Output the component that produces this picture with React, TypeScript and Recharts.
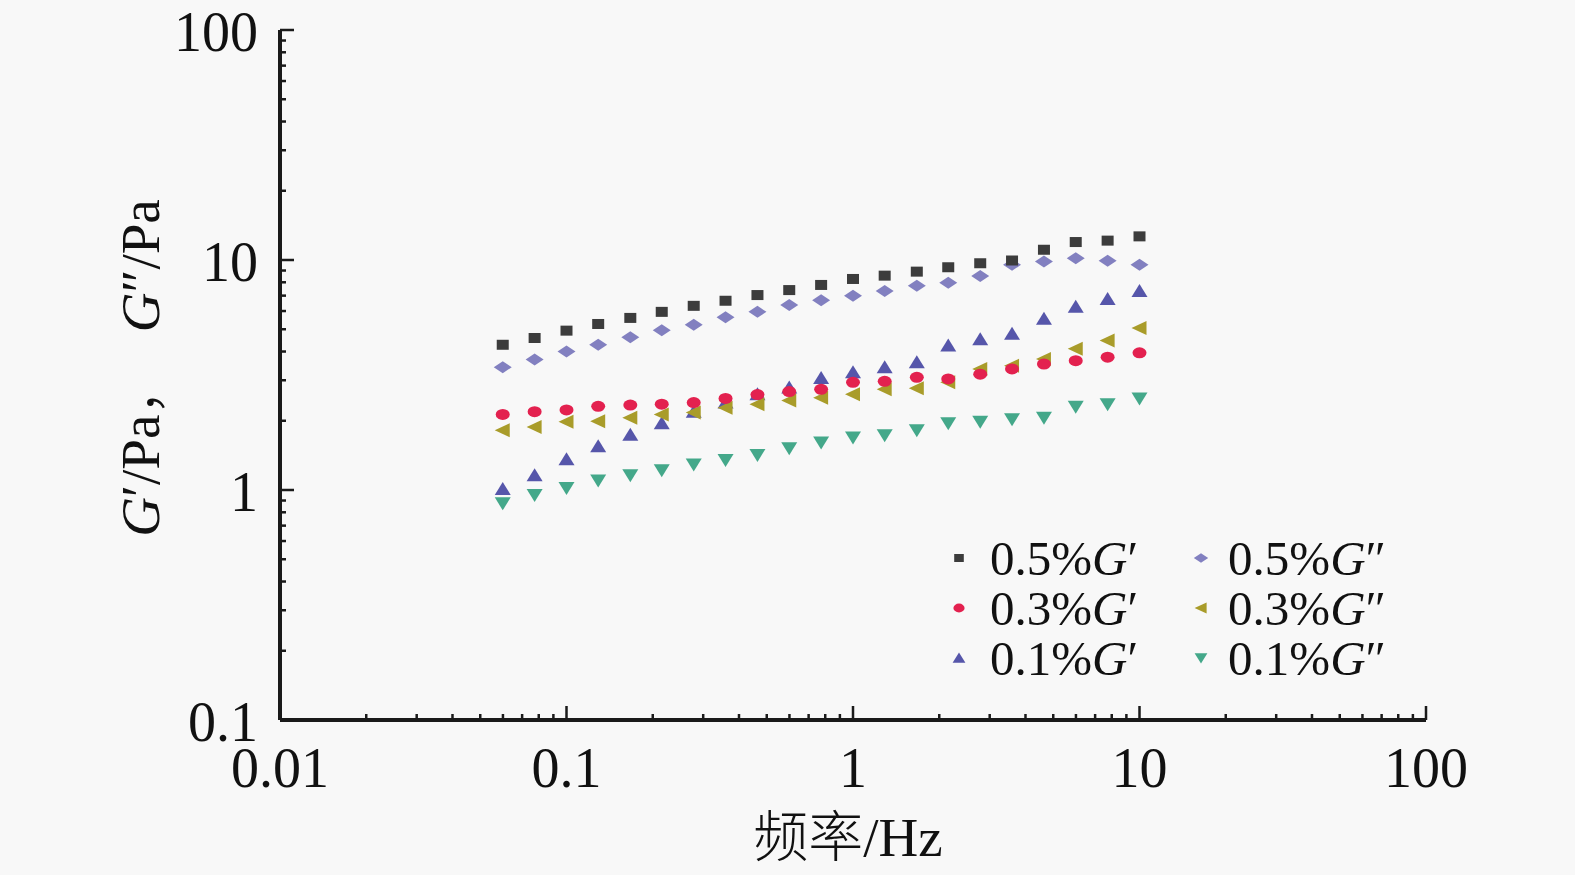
import { ScatterChart, Scatter, XAxis, YAxis } from "recharts";

// frequency (Hz), 21 points log-spaced from ~0.06 to 10
const freq = [0.0599, 0.0774, 0.1, 0.129, 0.167, 0.215, 0.278, 0.359, 0.464, 0.599, 0.774, 1, 1.29, 1.67, 2.15, 2.78, 3.59, 4.64, 5.99, 7.74, 10];

const g1_05 = [4.28, 4.58, 4.93, 5.27, 5.6, 5.95, 6.32, 6.65, 7.04, 7.4, 7.79, 8.27, 8.55, 8.9, 9.3, 9.68, 9.95, 11.08, 11.97, 12.14, 12.67];
const g2_05 = [3.42, 3.69, 4.0, 4.28, 4.61, 4.95, 5.23, 5.64, 5.95, 6.37, 6.69, 6.99, 7.33, 7.73, 7.97, 8.53, 9.53, 9.85, 10.18, 9.92, 9.53];
const g1_03 = [2.13, 2.19, 2.23, 2.31, 2.34, 2.36, 2.4, 2.5, 2.6, 2.68, 2.74, 2.94, 2.97, 3.09, 3.04, 3.19, 3.36, 3.53, 3.65, 3.78, 3.95];
const g2_03 = [1.82, 1.88, 1.98, 1.99, 2.06, 2.13, 2.17, 2.28, 2.36, 2.45, 2.52, 2.61, 2.74, 2.77, 2.94, 3.36, 3.47, 3.71, 4.11, 4.47, 5.06];
const g1_01 = [1.01, 1.16, 1.36, 1.55, 1.74, 1.95, 2.19, 2.4, 2.61, 2.79, 3.07, 3.25, 3.42, 3.59, 4.25, 4.52, 4.78, 5.56, 6.26, 6.76, 7.33];
const g2_01 = [0.875, 0.952, 1.02, 1.1, 1.16, 1.22, 1.29, 1.35, 1.42, 1.52, 1.61, 1.69, 1.73, 1.82, 1.95, 1.98, 2.03, 2.06, 2.3, 2.36, 2.5];

const xMajor = [0.01, 0.1, 1, 10, 100];
const xLabels = ["0.01", "0.1", "1", "10", "100"];
const yMajor = [0.1, 1, 10, 100];
const yLabels = ["0.1", "1", "10", "100"];
const minorSteps = [2, 3, 4, 5, 6, 7, 8, 9];

const withMinors = (major: number[]) => {
  const out: number[] = [];
  major.forEach((m, i) => {
    out.push(m);
    if (i < major.length - 1) minorSteps.forEach(s => out.push(+(m * s).toPrecision(6)));
  });
  return out;
};
const xTicks = withMinors(xMajor);
const yTicks = withMinors(yMajor);

const zip = (vals: number[]) => freq.map((f, i) => ({ f, g: vals[i] }));

const FONT = "'Liberation Serif', 'Times New Roman', serif";
const CJK = "'Noto Sans CJK SC', sans-serif";
const AXIS = "#1a1a1a";

const C = {
  sq: "#3c3c3c",
  dia: "#8280c0",
  circ: "#e3214f",
  left: "#a99c2a",
  up: "#5656aa",
  down: "#44a88a",
};

const Square = ({ cx, cy, fill, s = 1 }: any) => (
  <rect x={cx - 6 * s} y={cy - 5 * s} width={12 * s} height={10 * s} fill={fill} />
);
const Diamond = ({ cx, cy, fill, s = 1 }: any) => (
  <polygon points={`${cx - 9 * s},${cy} ${cx},${cy - 6 * s} ${cx + 9 * s},${cy} ${cx},${cy + 6 * s}`} fill={fill} />
);
const Circle = ({ cx, cy, fill, s = 1 }: any) => <ellipse cx={cx} cy={cy} rx={7 * s} ry={5.5 * s} fill={fill} />;
const TriUp = ({ cx, cy, fill, s = 1 }: any) => (
  <polygon points={`${cx - 8 * s},${cy + 6 * s} ${cx},${cy - 7 * s} ${cx + 8 * s},${cy + 6 * s}`} fill={fill} />
);
const TriLeft = ({ cx, cy, fill, s = 1 }: any) => (
  <polygon points={`${cx - 8 * s},${cy} ${cx + 7 * s},${cy - 7 * s} ${cx + 7 * s},${cy + 7 * s}`} fill={fill} />
);
const TriDown = ({ cx, cy, fill, s = 1 }: any) => (
  <polygon points={`${cx - 8 * s},${cy - 6 * s} ${cx + 8 * s},${cy - 6 * s} ${cx},${cy + 7 * s}`} fill={fill} />
);

const majorIndex = (arr: number[], v: number) => arr.findIndex(m => Math.abs(m - v) / m < 1e-6);

const XTick = ({ x, y, payload }: any) => {
  const i = majorIndex(xMajor, payload.value);
  const major = i >= 0;
  return (
    <g>
      <line x1={x} y1={y} x2={x} y2={y - (major ? 14 : 6)} stroke={AXIS} strokeWidth={2.5} />
      {major && (
        <text x={x} y={y + 48} textAnchor="middle" dominantBaseline="central" fontSize={56} fontFamily={FONT} fill="#111">
          {xLabels[i]}
        </text>
      )}
    </g>
  );
};

const YTick = ({ x, y, payload }: any) => {
  const i = majorIndex(yMajor, payload.value);
  const major = i >= 0;
  return (
    <g>
      <line x1={x} y1={y} x2={x + (major ? 14 : 6)} y2={y} stroke={AXIS} strokeWidth={2.5} />
      {major && (
        <text x={x - 22} y={y + 2} textAnchor="end" dominantBaseline="central" fontSize={56} fontFamily={FONT} fill="#111">
          {yLabels[i]}
        </text>
      )}
    </g>
  );
};

const legendItems = [
  { name: "0.5%", prime: "′", color: C.sq, Shape: Square },
  { name: "0.5%", prime: "″", color: C.dia, Shape: Diamond },
  { name: "0.3%", prime: "′", color: C.circ, Shape: Circle },
  { name: "0.3%", prime: "″", color: C.left, Shape: TriLeft },
  { name: "0.1%", prime: "′", color: C.up, Shape: TriUp },
  { name: "0.1%", prime: "″", color: C.down, Shape: TriDown },
];

export default function App() {
  return (
    <div style={{ position: "absolute", left: 0, top: 0, width: 1575, height: 875, background: "#f8f8f8", fontFamily: FONT }}>
      <ScatterChart width={1575} height={875} margin={{ top: 30, right: 149, left: 0, bottom: 0 }}>
        <XAxis
          type="number"
          dataKey="f"
          scale="log"
          domain={[0.01, 100]}
          ticks={xTicks}
          interval={0}
          allowDataOverflow
          height={155}
          tickSize={0}
          tickMargin={0}
          tickLine={false}
          axisLine={{ stroke: AXIS, strokeWidth: 4 }}
          tick={<XTick />}
        />
        <YAxis
          type="number"
          dataKey="g"
          scale="log"
          domain={[0.1, 100]}
          ticks={yTicks}
          interval={0}
          allowDataOverflow
          width={280}
          tickSize={0}
          tickMargin={0}
          tickLine={false}
          axisLine={{ stroke: AXIS, strokeWidth: 4 }}
          tick={<YTick />}
        />
        <Scatter data={zip(g2_01)} fill={C.down} shape={<TriDown />} isAnimationActive={false} />
        <Scatter data={zip(g1_01)} fill={C.up} shape={<TriUp />} isAnimationActive={false} />
        <Scatter data={zip(g2_03)} fill={C.left} shape={<TriLeft />} isAnimationActive={false} />
        <Scatter data={zip(g1_03)} fill={C.circ} shape={<Circle />} isAnimationActive={false} />
        <Scatter data={zip(g2_05)} fill={C.dia} shape={<Diamond />} isAnimationActive={false} />
        <Scatter data={zip(g1_05)} fill={C.sq} shape={<Square />} isAnimationActive={false} />
      </ScatterChart>

      {/* legend */}
      <div style={{ position: "absolute", left: 944, top: 533, display: "grid", gridTemplateColumns: "242px 200px", rowGap: 0 }}>
        {legendItems.map((it, k) => (
          <div key={k} style={{ display: "flex", alignItems: "center", height: 50, fontSize: 49, color: "#111" }}>
            <svg width={34} height={24} style={{ marginRight: 12 }}>
              <it.Shape cx={15} cy={12} fill={it.color} s={0.8} />
            </svg>
            <span>
              {it.name}
              <i>G</i>
              {it.prime}
            </span>
          </div>
        ))}
      </div>

      {/* x title */}
      <div style={{ position: "absolute", left: 648, width: 400, top: 800, textAlign: "center", fontSize: 55, color: "#111", lineHeight: "64px" }}>
        <span style={{ fontFamily: CJK, fontWeight: 300 }}>频率</span>/Hz
      </div>

      {/* y title */}
      <div
        style={{
          position: "absolute",
          left: 138,
          top: 368,
          transform: "translate(-50%, -50%) rotate(-90deg)",
          whiteSpace: "nowrap",
          fontSize: 55,
          color: "#111",
          lineHeight: "64px",
        }}
      >
        <i>G</i>′/Pa<span style={{ fontFamily: CJK, fontWeight: 300 }}>，</span>
        {"\u00a0\u00a0"}
        <i>G</i>″/Pa
      </div>
    </div>
  );
}
